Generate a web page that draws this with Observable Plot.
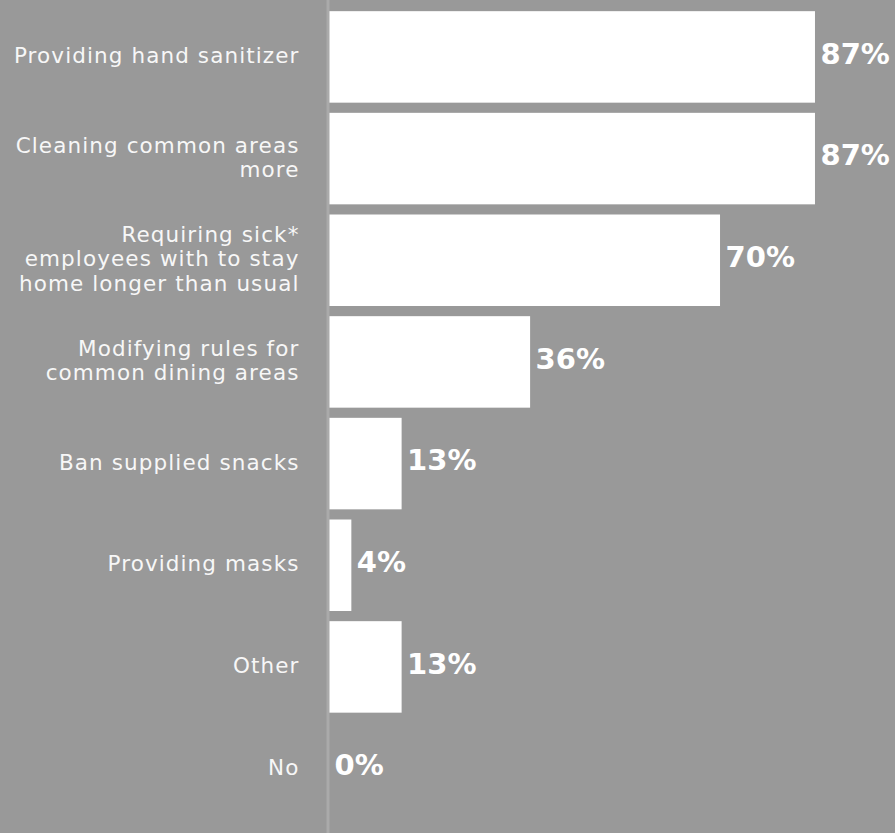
<!DOCTYPE html>
<html>
<head>
<meta charset="utf-8">
<script src="https://cdn.jsdelivr.net/npm/d3@7"></script>
<script src="https://cdn.jsdelivr.net/npm/@observablehq/plot@0.6"></script>
<style>
  html, body { margin: 0; padding: 0; background: #999999; }
  #chart svg { display: block; }
  #chart .cat-label { letter-spacing: 1.1px; }
</style>
</head>
<body>
<div id="chart"></div>
<script>
const categories = [
  "Providing hand sanitizer",
  "Cleaning common areas\nmore",
  "Requiring sick*\nemployees with to stay\nhome longer than usual",
  "Modifying rules for\ncommon dining areas",
  "Ban supplied snacks",
  "Providing masks",
  "Other",
  "No"
];
const values = [87, 87, 70, 36, 13, 4, 13, 0];

const data = categories.map((c, i) => ({category: c, value: values[i]}));

const chart = Plot.plot({
  width: 895,
  height: 833,
  marginLeft: 329,
  marginRight: 7.4,
  marginTop: 1,
  marginBottom: 8.5,
  style: {background: "#999999", fontFamily: "'DejaVu Sans', sans-serif"},
  x: {domain: [0, 100], axis: null},
  y: {domain: categories, padding: 0.1, round: false, axis: null},
  marks: [
    Plot.barX(data, {x: "value", y: "category", fill: "#ffffff"}),
    Plot.ruleX([0], {stroke: "#aaaaaa", strokeWidth: 3, dx: -1.5, insetTop: -1, insetBottom: -9}),
    Plot.text(data, {x: 0, y: "category", text: "category", textAnchor: "end", dx: -30, dy: -2,
      fill: "#f7f7f7", fontSize: 21.5, lineHeight: 1.12, className: "cat-label"}),
    Plot.text(data, {x: "value", y: "category", text: d => d.value + "%", textAnchor: "start", dx: 5, dy: -3,
      fill: "#ffffff", fontSize: 29, fontWeight: "bold"})
  ]
});
document.getElementById("chart").appendChild(chart);
</script>
</body>
</html>
